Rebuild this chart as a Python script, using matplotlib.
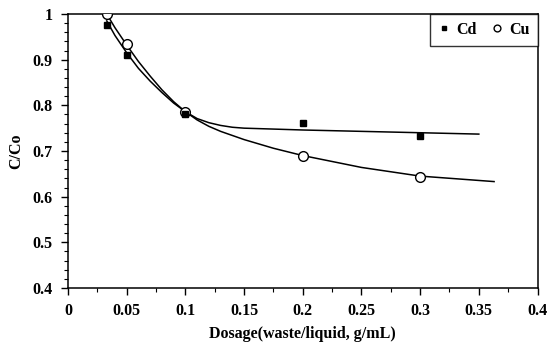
import matplotlib
matplotlib.use("Agg")
import matplotlib.pyplot as plt
from matplotlib.ticker import MultipleLocator, FixedLocator

# Measured points
cd_x = [0.033, 0.05, 0.1, 0.2, 0.3]
cd_y = [0.975, 0.91, 0.782, 0.761, 0.733]
cu_x = [0.033, 0.05, 0.1, 0.2, 0.3]
cu_y = [1.0, 0.935, 0.785, 0.690, 0.644]

# Fitted curves
cd_fit_x = [0.033, 0.04, 0.05, 0.06, 0.07, 0.08, 0.09, 0.1, 0.11, 0.12, 0.13, 0.14, 0.15, 0.2, 0.25, 0.3, 0.35]
cd_fit_y = [0.985, 0.953, 0.915, 0.881, 0.853, 0.828, 0.805, 0.786, 0.771, 0.762, 0.756, 0.752, 0.750, 0.746, 0.743, 0.740, 0.737]
cu_fit_x = [0.033, 0.04, 0.05, 0.06, 0.07, 0.08, 0.09, 0.1, 0.11, 0.12, 0.13, 0.15, 0.175, 0.2, 0.25, 0.3, 0.363]
cu_fit_y = [1.0, 0.970, 0.932, 0.896, 0.864, 0.834, 0.808, 0.786, 0.768, 0.754, 0.743, 0.725, 0.706, 0.690, 0.664, 0.645, 0.633]

x_ticks = [0, 0.05, 0.1, 0.15, 0.2, 0.25, 0.3, 0.35, 0.4]
x_labels = ["0", "0.05", "0.1", "0.15", "0.2", "0.25", "0.3", "0.35", "0.4"]
y_ticks = [0.4, 0.5, 0.6, 0.7, 0.8, 0.9, 1.0]
y_labels = ["0.4", "0.5", "0.6", "0.7", "0.8", "0.9", "1"]

plt.rcParams['font.family'] = ['Liberation Serif', 'DejaVu Serif']
plt.rcParams['font.weight'] = 'bold'

fig = plt.figure(figsize=(5.53, 3.42), dpi=100)
ax = fig.add_axes([0.123, 0.158, 0.849, 0.801])

ax.plot(cd_fit_x, cd_fit_y, color='black', lw=1.1, zorder=2)
ax.plot(cu_fit_x, cu_fit_y, color='black', lw=1.1, zorder=2)
ax.plot(cd_x, cd_y, linestyle='none', marker='s', ms=5, mfc='black', mec='black', label='Cd', zorder=4)
ax.plot(cu_x, cu_y, linestyle='none', marker='o', ms=7, mfc='white', mec='black', mew=1.0, label='Cu', zorder=3)

ax.set_xlim(0, 0.4)
ax.set_ylim(0.4, 1.0)
ax.xaxis.set_major_locator(FixedLocator(x_ticks))
ax.set_xticklabels(x_labels)
ax.yaxis.set_major_locator(FixedLocator(y_ticks))
ax.set_yticklabels(y_labels)
ax.yaxis.set_minor_locator(MultipleLocator(0.02))
ax.xaxis.set_minor_locator(MultipleLocator(0.025))
ax.tick_params(axis='both', which='major', direction='out', length=5, width=1, labelsize=11.5, pad=6)
ax.tick_params(axis='both', which='minor', direction='out', length=3, width=0.8)
ax.tick_params(top=False, right=False)
for s in ax.spines.values():
    s.set_linewidth(1.1)
    s.set_color('black')
for lab in ax.get_xticklabels() + ax.get_yticklabels():
    lab.set_fontweight('bold')

ax.set_xlabel('Dosage(waste/liquid, g/mL)', fontsize=11.5, fontweight='bold', labelpad=5)
ax.set_ylabel('C/Co', fontsize=11.5, fontweight='bold', labelpad=6)

leg = ax.legend(loc='upper right', ncol=2, frameon=True, fancybox=False, borderaxespad=0.0,
                handletextpad=0.35, columnspacing=0.9, handlelength=0.8, borderpad=0.5,
                prop={'weight': 'bold', 'size': 11.5}, markerscale=0.7)
leg.get_frame().set_edgecolor('black')
leg.get_frame().set_linewidth(1.0)

fig.savefig('out.png', dpi=100)
